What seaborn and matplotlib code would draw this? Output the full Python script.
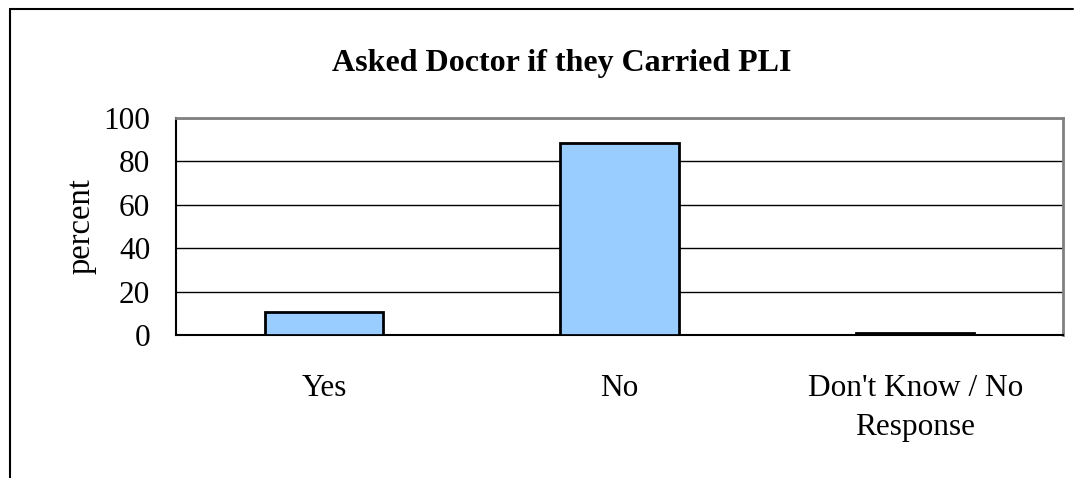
import matplotlib
matplotlib.use("Agg")
import matplotlib.pyplot as plt
import seaborn as sns
import pandas as pd
from matplotlib.lines import Line2D

# Data
categories = ["Yes", "No", "Don't Know / No\nResponse"]
percent = [10.6, 88.7, 0.7]
y_ticks = [0, 20, 40, 60, 80, 100]

df = pd.DataFrame({"category": categories, "percent": percent})

sns.set_theme(style="white")
plt.rcParams['font.family'] = ['Liberation Serif', 'DejaVu Serif']
plt.rcParams['text.color'] = 'black'
plt.rcParams['axes.labelcolor'] = 'black'
plt.rcParams['xtick.color'] = 'black'
plt.rcParams['ytick.color'] = 'black'

fig = plt.figure(figsize=(10.78, 4.78), dpi=100)
ax = fig.add_axes([176 / 1078, 1 - 335 / 478, (1063 - 176) / 1078, (335 - 118) / 478])

sns.barplot(data=df, x="category", y="percent", ax=ax, color="#99CCFF",
            width=0.4, edgecolor="black", linewidth=2, saturation=1, zorder=3)

ax.set_ylim(0, 100)
ax.set_xlim(-0.5, 2.5)
ax.set_yticks(y_ticks)
ax.set_yticklabels([str(t) for t in y_ticks], fontsize=22.5)
ax.yaxis.grid(True, color="black", linewidth=1, zorder=0)
ax.set_axisbelow(True)

# category boundaries as major ticks, labels on minor ticks
ax.set_xticks([-0.5, 0.5, 1.5, 2.5])
ax.set_xticklabels([])
ax.set_xticks([0, 1, 2], minor=True)
ax.set_xticklabels(categories, minor=True, fontsize=22.5, linespacing=1.45)
ax.tick_params(axis="x", which="major", direction="out", length=7, width=1, color="black")
ax.tick_params(axis="x", which="minor", length=0, pad=28)
ax.tick_params(axis="y", direction="out", length=6.5, width=1, color="black", pad=12)

ax.set_xlabel("")
ax.set_ylabel("percent", fontsize=23.5, labelpad=5)

for side in ["left", "bottom"]:
    ax.spines[side].set_color("black")
    ax.spines[side].set_linewidth(1.5)
for side in ["top", "right"]:
    ax.spines[side].set_color("#808080")
    ax.spines[side].set_linewidth(2)

fig.text(562 / 1078, 1 - 63 / 478, "Asked Doctor if they Carried PLI",
         ha="center", va="center", fontsize=23, fontweight="bold")

# outer chart frame (top and left edges visible)
fig.add_artist(Line2D([9.5 / 1078, 9.5 / 1078], [0, 1 - 9 / 478],
                      transform=fig.transFigure, color="black", linewidth=1.5))
fig.add_artist(Line2D([9.5 / 1078, 1073 / 1078], [1 - 9 / 478, 1 - 9 / 478],
                      transform=fig.transFigure, color="black", linewidth=1.5))

fig.savefig("out.png", dpi=100)
